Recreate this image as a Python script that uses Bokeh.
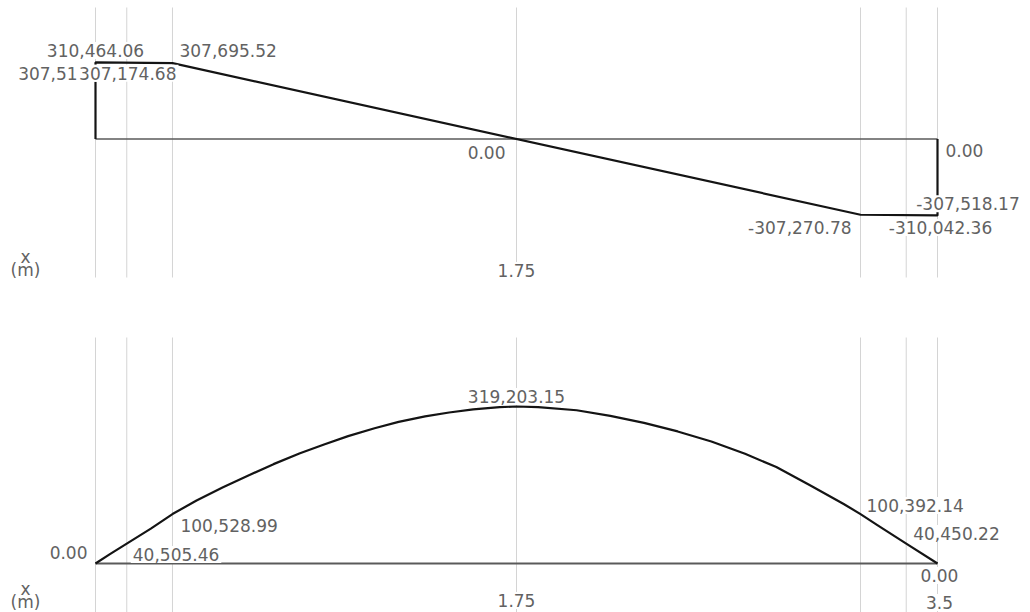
from bokeh.plotting import figure
from bokeh.layouts import column
from bokeh.models import Range1d, Label
from bokeh.embed import file_html
from bokeh.resources import INLINE

# ---------------- data ----------------
span_length = 3.5
grid_x = [0.0, 0.13, 0.32, 1.75, 3.18, 3.37, 3.5]

# shear force diagram
shear_x = [0.0, 0.0, 0.32, 3.18, 3.5, 3.5]
shear_v = [0.0, 310464.06, 307695.52, -307270.78, -310042.36, 0.0]
shear_label_x = [0.0, 0.13, 0.0, 0.32, 1.75, 3.5, 3.37, 3.5, 3.18]
shear_label_v = [307518.17, 307174.68, 310464.06, 307695.52, 0.0, 0.0,
                 -307518.17, -310042.36, -307270.78]
shear_ticks = [1.75]
shear_tick_labels = ["1.75"]

# bending moment diagram
moment_x = [0.0, 0.06, 0.13, 0.23, 0.32, 0.42, 0.53, 0.64, 0.74, 0.85, 0.95,
            1.05, 1.16, 1.26, 1.37, 1.47, 1.57, 1.68, 1.75, 1.84, 2.0, 2.14,
            2.28, 2.42, 2.56, 2.70, 2.83, 2.97, 3.11, 3.18, 3.25, 3.37, 3.5]
moment_m = [0.0, 19000, 40505.46, 71000, 100528.99, 128000, 155000, 180000,
            202000, 224000, 242000, 259000, 275000, 288000, 299000, 307000,
            313500, 317800, 319203.15, 318000, 311500, 300000, 286000, 268500,
            248000, 223000, 196000, 159000, 121000, 100392.14, 78000,
            40450.22, 0.0]
moment_label_x = [1.75, 0.32, 0.13, 0.0, 3.18, 3.37, 3.5]
moment_label_m = [319203.15, 100528.99, 40505.46, 0.0, 100392.14, 40450.22, 0.0]
moment_ticks = [1.75, 3.5]
moment_tick_labels = ["1.75", "3.5"]

axis_title = ["x", "(m)"]

# ---------------- layout / style ----------------
W = 1030
X0_PX, X1_PX = 95, 937            # figure pixels of x = 0 and x = L
SX = (X1_PX - X0_PX) / span_length
X_RANGE = (-X0_PX / SX, span_length + (W - X1_PX) / SX)

FONT = "DejaVu Sans"
FSIZE = "17px"
TCOL = "#626262"
GRID_COL = "#d4d4d4"
LINE_COL = "#141414"
BASE_COL = "#5a5a5a"


def px_x(fig_px):
    return (fig_px - X0_PX) / SX


class Panel:
    def __init__(self, height, base_px, per_px):
        self.h = height
        self.base = base_px      # figure px (from top) of value 0
        self.per = per_px
        self.p = figure(width=W, height=height,
                        x_range=Range1d(*X_RANGE),
                        y_range=Range1d(-(height - base_px) * per_px, base_px * per_px),
                        output_backend="svg", toolbar_location=None,
                        min_border=0, border_fill_color="white",
                        background_fill_color="white")
        self.p.axis.visible = False
        self.p.grid.visible = False
        self.p.outline_line_color = None

    def y(self, fig_px):
        return (self.base - fig_px) * self.per

    def label(self, x, y, text, align="center", dx=0, dy=0, bg=True):
        lab = Label(x=x + dx / SX, y=y + dy * self.per, text=text,
                    text_align=align, text_baseline="middle",
                    text_font=FONT, text_font_size=FSIZE, text_color=TCOL,
                    background_fill_color="white" if bg else None,
                    padding=2)
        self.p.add_layout(lab)


def fmt(v):
    return f"{v:,.2f}"


# ---------------- top panel: shear ----------------
top = Panel(308, 138.5, 4056)
tp = top.p
tp.segment(x0=grid_x, x1=grid_x, y0=[top.y(7)] * len(grid_x),
           y1=[top.y(277)] * len(grid_x), line_color=GRID_COL, line_width=1)
tp.line([shear_x[0], shear_x[-1]], [0, 0], line_color=BASE_COL, line_width=1.6)
tp.line(shear_x, shear_v, line_color=LINE_COL, line_width=2.2)

shear_style = [("right", 22, -10), ("center", 1, -10), ("center", 0, 12),
               ("left", 5, 12.5), ("right", -9, -13.5), ("left", 6, -11.5),
               ("left", 8, 11), ("center", 3, -12), ("right", -7, -13)]
for xv, vv, (al, dx, dy) in zip(shear_label_x, shear_label_v, shear_style):
    top.label(xv, vv, fmt(vv), align=al, dx=dx, dy=dy)

for t, s in zip(shear_ticks, shear_tick_labels):
    top.label(t, top.y(270), s)
top.label(px_x(25), top.y(256), axis_title[0], bg=False)
top.label(px_x(25), top.y(269), axis_title[1], bg=False)

# ---------------- bottom panel: moment ----------------
bot = Panel(304, 255, 2033)
bp = bot.p
bp.segment(x0=grid_x, x1=grid_x, y0=[bot.y(29)] * len(grid_x),
           y1=[bot.y(310)] * len(grid_x), line_color=GRID_COL, line_width=1)
bp.line([moment_x[0], moment_x[-1]], [0, 0], line_color=BASE_COL, line_width=2)
bp.line(moment_x, moment_m, line_color=LINE_COL, line_width=2.2,
        line_join="round")

moment_style = [("center", 0, 10), ("left", 6, -11.5), ("left", 4, -11),
                ("right", -6, 11), ("left", 4, 8.5), ("left", 5, 10),
                ("center", 2, -12)]
for xv, mv, (al, dx, dy) in zip(moment_label_x, moment_label_m, moment_style):
    bot.label(xv, mv, fmt(mv), align=al, dx=dx, dy=dy)

for t, s in zip(moment_ticks, moment_tick_labels):
    bot.label(t, bot.y(292 if s == "1.75" else 294), s, dx=2 if s == "3.5" else 0)
bot.label(px_x(25), bot.y(280), axis_title[0], bg=False)
bot.label(px_x(25), bot.y(293), axis_title[1], bg=False)

layout = column(tp, bp, spacing=0)
open("out.html", "w").write(file_html(layout, INLINE))
